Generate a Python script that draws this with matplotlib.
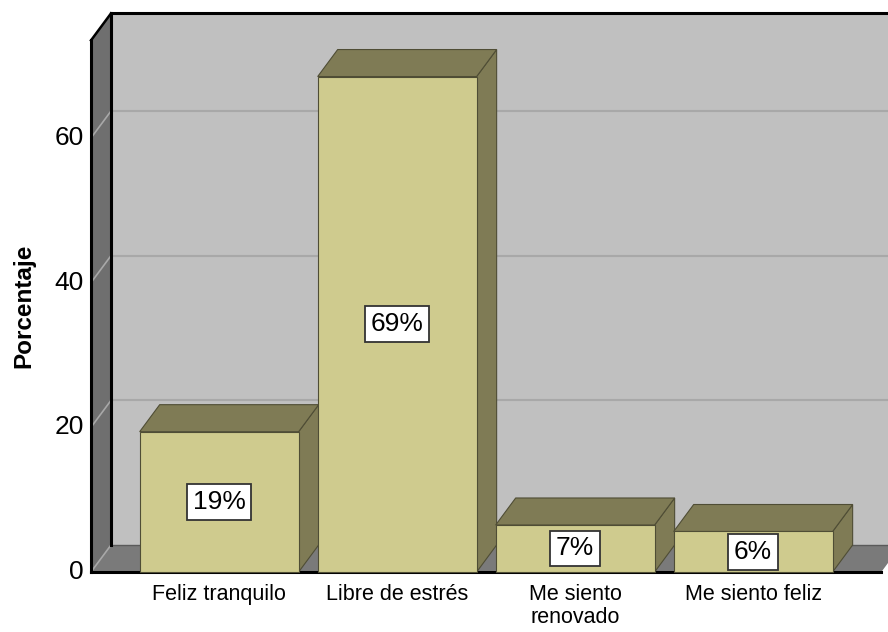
import matplotlib
matplotlib.use('Agg')
import matplotlib.pyplot as plt
from matplotlib.patches import Polygon

# data
categories = ["Feliz tranquilo", "Libre de estrés", "Me siento\nrenovado", "Me siento feliz"]
percentages = [19.4, 68.5, 6.5, 5.6]
bar_labels = ["19%", "69%", "7%", "6%"]
y_ticks = [0, 20, 40, 60]

# look
back_wall = '#C0C0C0'
side_wall = '#6F6F6F'
floor_col = '#7A7A7A'
grid_col = '#A8A8A8'
bar_front = '#CFCB8E'
bar_shade = '#7F7B55'
bar_edge = '#4F4D35'

sans = ['Liberation Sans', 'DejaVu Sans']

# geometry (category units / value units)
x_left, x_right = -0.72, 3.72
y_max = 73.5
dx, dy = 20 / 178, 27 / 7.233      # 3D depth offset
bar_w = 0.893

fig = plt.figure(figsize=(8.88, 6.32), dpi=100)
ax = fig.add_axes([0, 0, 1, 1])
ax.set_xlim(x_left - 91 / 178, x_left + (888 - 91) / 178)
ax.set_ylim(-60 / 7.233, 572 / 7.233)
ax.axis('off')

def poly(pts, fc, ec='none', lw=0, z=1):
    ax.add_patch(Polygon(pts, closed=True, facecolor=fc, edgecolor=ec, linewidth=lw, zorder=z))

# back wall
poly([(x_left + dx, dy), (x_right + dx, dy), (x_right + dx, y_max + dy), (x_left + dx, y_max + dy)], back_wall, z=1)
# left wall
poly([(x_left, 0), (x_left + dx, dy), (x_left + dx, y_max + dy), (x_left, y_max)], side_wall, z=1)
# floor
poly([(x_left, 0), (x_right, 0), (x_right + dx, dy), (x_left + dx, dy)], floor_col, z=1)

# gridlines on back wall and left wall
for v in y_ticks:
    if v > 0:
        ax.plot([x_left + dx, x_right + dx], [v + dy, v + dy], color=grid_col, lw=1.5, zorder=2)
    ax.plot([x_left, x_left + dx], [v, v + dy], color=grid_col, lw=1.2, zorder=2)
ax.plot([x_left + dx, x_right + dx], [dy, dy], color='#5A5A5A', lw=1, zorder=2)

# frame edges
ax.plot([x_left + dx, x_right + dx], [y_max + dy, y_max + dy], color='black', lw=2.2, zorder=3)
ax.plot([x_left + dx, x_left + dx], [dy, y_max + dy], color='black', lw=2.2, zorder=3)
ax.plot([x_left, x_left + dx], [y_max, y_max + dy], color='black', lw=1.8, zorder=3)
ax.plot([x_left, x_left], [0, y_max], color='black', lw=2.2, zorder=3)
ax.plot([x_left, x_right], [0, 0], color='black', lw=2.2, zorder=3)

# bars
for i, h in enumerate(percentages):
    x0 = i - bar_w / 2
    x1 = i + bar_w / 2
    z = 4 + i
    poly([(x1, 0), (x1 + dx, dy), (x1 + dx, h + dy), (x1, h)], bar_shade, bar_edge, 0.8, z)
    poly([(x0, h), (x1, h), (x1 + dx, h + dy), (x0 + dx, h + dy)], bar_shade, bar_edge, 0.8, z)
    poly([(x0, 0), (x1, 0), (x1, h), (x0, h)], bar_front, bar_edge, 0.8, z)
    ax.text(i, h / 2, bar_labels[i], ha='center', va='center', fontsize=19,
            family=sans, zorder=20,
            bbox=dict(boxstyle='square,pad=0.22', fc='white', ec='#333333', lw=1.3))
    ax.text(i, -1.7, categories[i], ha='center', va='top', fontsize=15.5,
            family=sans, linespacing=1.1, zorder=20)

# y tick labels
for v in y_ticks:
    ax.text(x_left - 0.04, v, str(v), ha='right', va='center', fontsize=19, family=sans)

ax.text(x_left - 0.376, 36.8, 'Porcentaje', rotation=90, ha='center', va='center',
        fontsize=17.5, fontweight='bold', family=sans)

fig.savefig('out.png', dpi=100)
